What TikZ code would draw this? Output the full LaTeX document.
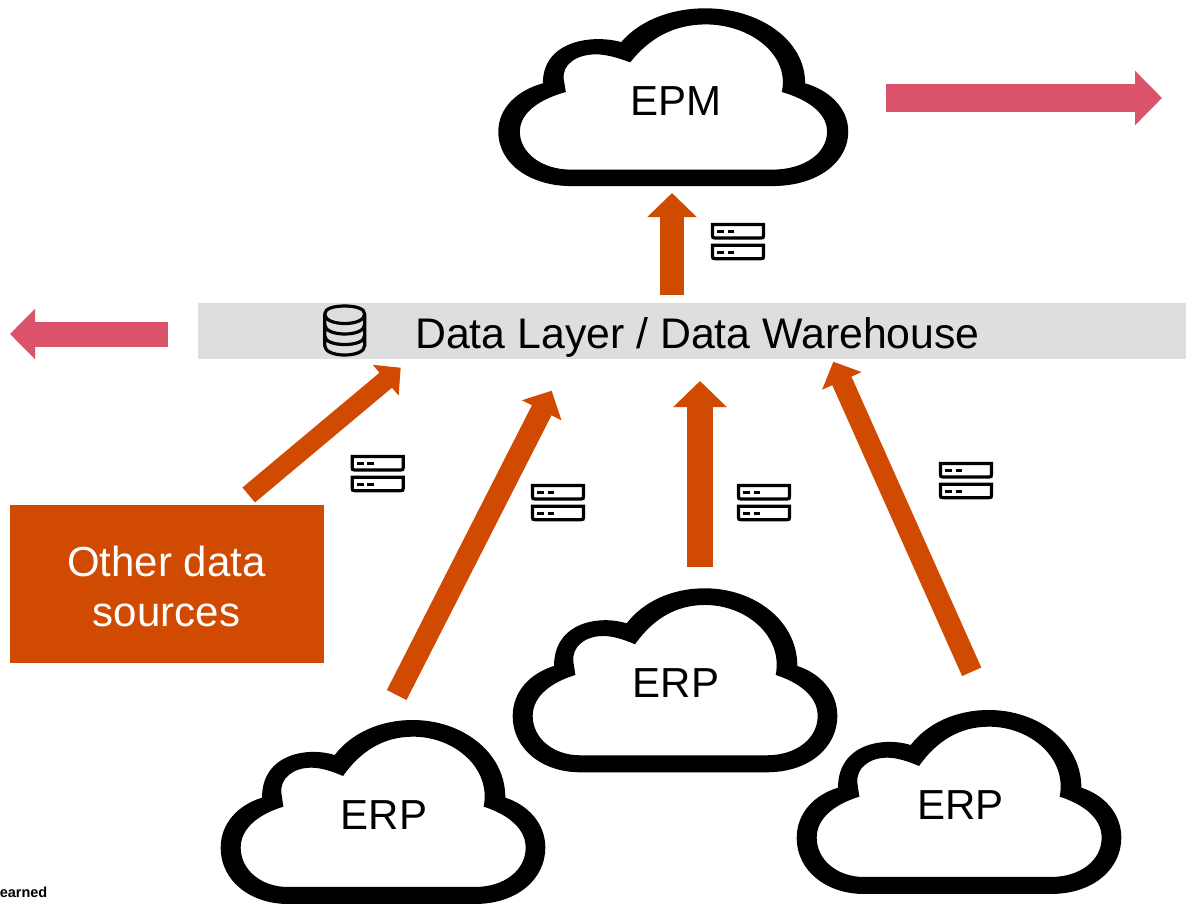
\documentclass[tikz,border=0pt]{standalone}
\usepackage{fontspec}
\setmainfont{Liberation Sans}
\usetikzlibrary{arrows.meta}
\definecolor{pwcorange}{HTML}{D04A02}
\definecolor{pwcrose}{HTML}{DB536A}
\definecolor{barfill}{HTML}{DEDEDE}
\tikzset{
  labeltext/.style={inner sep=0pt,font=\fontsize{42}{50}\selectfont,text=black},
  orangearrow/.style={draw=pwcorange,line width=#1},
  rosearrow/.style={draw=pwcrose,line width=#1},
  pics/cloudicon/.style={code={
    \fill[black,even odd rule,shift={(-38,-25)}]
      (240,577) -- (800,577) .. controls (930,577) and (1012,500) .. (1012,408)
      .. controls (1012,335) and (960,280) .. (892,258)
      .. controls (892,120) and (760,25) .. (615,25)
      .. controls (515,25) and (430,65) .. (380,130)
      .. controls (300,105) and (162,125) .. (162,258)
      .. controls (90,280) and (38,335) .. (38,408)
      .. controls (38,510) and (130,577) .. (240,577) -- cycle
      (240,526) -- (800,526) .. controls (890,526) and (953,475) .. (953,408)
      .. controls (953,345) and (890,305) .. (827,285)
      .. controls (850,170) and (740,75) .. (615,75)
      .. controls (530,75) and (460,115) .. (405,193)
      .. controls (375,180) and (340,168) .. (310,168)
      .. controls (255,168) and (215,200) .. (220,245)
      -- (226,285)
      .. controls (160,305) and (98,345) .. (98,408)
      .. controls (98,475) and (160,526) .. (240,526) -- cycle;
  }},
  pics/servericon/.style={code={
    \foreach \oo in {0,20.7}{
      \draw[black,line width=3.2pt,line join=miter]
        (1.5,1.5+\oo) -- (52.5,1.5+\oo) -- (52.5,12.5+\oo)
        .. controls (52.5,14.5+\oo) and (52,15+\oo) .. (50,15+\oo) -- (4,15+\oo)
        .. controls (2,15+\oo) and (1.5,14.5+\oo) .. (1.5,12.5+\oo) -- cycle;
      \draw[black,line width=3pt] (6.3,8.3+\oo) -- (13,8.3+\oo) (16.7,8.3+\oo) -- (23.3,8.3+\oo);
    }
  }},
  pics/dbicon/.style={code={
    \draw[black,line width=3.2pt,line cap=round,line join=round]
      (0,9.5) .. controls (0,4) and (9,1.5) .. (20,1.5) .. controls (31,1.5) and (40,4) .. (40,9.5)
      .. controls (40,15.5) and (31,19) .. (20,19) .. controls (9,19) and (0,15.5) .. (0,9.5)
      -- (0,41) .. controls (0,47) and (9,50.5) .. (20,50.5) .. controls (31,50.5) and (40,47) .. (40,41) -- (40,9.5)
      (0,20) .. controls (0,26) and (9,29.5) .. (20,29.5) .. controls (31,29.5) and (40,26) .. (40,20)
      (0,31) .. controls (0,37) and (9,40) .. (20,40) .. controls (31,40) and (40,37) .. (40,31);
  }},
}
\begin{document}
\begin{tikzpicture}[x=1pt,y=-1pt]
\useasboundingbox (0,0) rectangle (1186,903);
% data layer bar
\fill[barfill] (198,303) rectangle (1186,359);
\node[labeltext,anchor=base west,font=\fontsize{42.8}{50}\selectfont] (dl) at (415,348.5) {Data Layer / Data Warehouse};
\pic at (324.7,304.5) {dbicon};
% other sources
\node[fill=pwcorange,minimum width=314pt,minimum height=158pt,inner sep=0pt,anchor=north west] (other) at (10,505) {};
\node[align=center,inner sep=0pt,text=white,font=\fontsize{42}{50}\selectfont] (othertext) at (166.5,586) {Other data\\sources};
% clouds
\pic[xscale=0.3593,yscale=0.322] at (498.3,8.3) {cloudicon};
\pic[xscale=0.3333,yscale=0.3333] at (512.7,588.3) {cloudicon};
\pic[xscale=0.3333,yscale=0.3333] at (220.7,720) {cloudicon};
\pic[xscale=0.3333,yscale=0.3333] at (796.7,710) {cloudicon};
\node[labeltext,anchor=base] (epm) at (675.5,115) {EPM};
\node[labeltext,anchor=base] (erpm) at (676,697.7) {ERP};
\node[labeltext,anchor=base] (erpl) at (384,829.3) {ERP};
\node[labeltext,anchor=base] (erpr) at (960.5,819.3) {ERP};
% free arrow ends
\coordinate (ra1) at (886,98);   \coordinate (ra2) at (1162,98);
\coordinate (rb1) at (168,334);  \coordinate (rb2) at (10,334);
\coordinate (t1) at (672,295);   \coordinate (t2) at (672,193);
\coordinate (a1) at (248.7,495); \coordinate (a2) at (400.7,367.7);
\coordinate (b1) at (396.7,695); \coordinate (b2) at (551.7,390.7);
\coordinate (c1) at (700,566.7); \coordinate (c2) at (700,381);
\coordinate (d1) at (971.7,671.8); \coordinate (d2) at (833.3,361.7);
\draw[rosearrow=28pt,-{Triangle[length=27pt,width=53pt]}] (ra1) -- (ra2);
\draw[rosearrow=25pt,-{Triangle[length=25pt,width=49pt]}] (rb1) -- (rb2);
\draw[orangearrow=24pt,-{Triangle[length=24pt,width=48pt]}] (t1) -- (t2);
\draw[orangearrow=19.5pt,-{Triangle[length=19.5pt,width=39pt]}] (a1) -- (a2);
\draw[orangearrow=22pt,-{Triangle[length=22pt,width=43pt]}] (b1) -- (b2);
\draw[orangearrow=26pt,-{Triangle[length=26pt,width=52pt]}] (c1) -- (c2);
\draw[orangearrow=21pt,-{Triangle[length=21pt,width=42pt]}] (d1) -- (d2);
% server icons
\pic at (711,223) {servericon};
\pic at (350.7,455) {servericon};
\pic at (531,484) {servericon};
\pic at (737,484) {servericon};
\pic at (939,462) {servericon};
% cut-off footer
\node[inner sep=0pt,anchor=base east,font=\fontsize{14.5}{16}\selectfont\bfseries] (foot) at (47.5,897) {earned};
\end{tikzpicture}
\end{document}
